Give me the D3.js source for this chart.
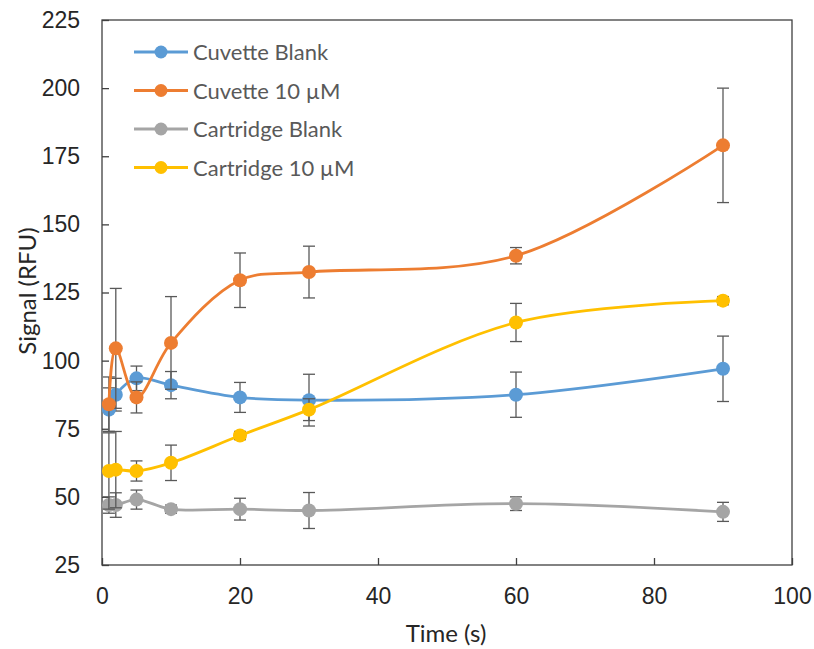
<!DOCTYPE html>
<html>
<head>
<meta charset="utf-8">
<script src="https://cdn.jsdelivr.net/npm/d3@7"></script>
<style>
  html, body { margin: 0; padding: 0; background: #fff; }
  svg { display: block; font-family: Lato, "Open Sans", sans-serif; }
</style>
</head>
<body>
<svg id="chart" width="814" height="649"></svg>
<script>
const times = [1, 2, 5, 10, 20, 30, 60, 90];
const seriesNames = ["Cuvette Blank", "Cuvette 10 \u00b5M", "Cartridge Blank", "Cartridge 10 \u00b5M"];
const cuvetteBlank = [82, 87.5, 93.5, 91, 86.5, 85.5, 87.5, 97];
const cuvetteBlankErr = [8, 6, 4.5, 5, 5.5, 9.5, 8.3, 12];
const cuvette10 = [84, 104.5, 86.5, 106.5, 129.5, 132.5, 138.5, 179];
const cuvette10Err = [10, 22, 5.7, 17, 10, 9.5, 3, 21];
const cartridgeBlank = [47, 47, 49, 45.5, 45.5, 45, 47.5, 44.5];
const cartridgeBlankErr = [3, 4.5, 3.5, 1.5, 4, 6.6, 2.5, 3.5];
const cartridge10 = [59.5, 60, 59.5, 62.5, 72.5, 82, 114, 122];
const cartridge10Err = [14, 14, 3.7, 6.5, 1.5, 4, 7, 1.5];
const colors = ["#5B9BD5", "#ED7D31", "#A5A5A5", "#FFC000"];
const xTicks = [0, 20, 40, 60, 80, 100];
const yTicks = [25, 50, 75, 100, 125, 150, 175, 200, 225];

const seriesValues = [cuvetteBlank, cuvette10, cartridgeBlank, cartridge10];
const seriesErrs = [cuvetteBlankErr, cuvette10Err, cartridgeBlankErr, cartridge10Err];

const svg = d3.select("#chart");
const L = 102, R = 792, T = 20, B = 565;
const x = d3.scaleLinear().domain([0, 100]).range([L, R]);
const y = d3.scaleLinear().domain([25, 225]).range([B, T]);

const axisColor = "#404040";
const textColor = "#262626";

// frame
svg.append("rect").attr("x", L).attr("y", T).attr("width", R - L).attr("height", B - T)
  .attr("fill", "none").attr("stroke", axisColor).attr("stroke-width", 1.3);

// x axis (ticks inside)
const xAxis = svg.append("g").attr("transform", `translate(0,${B})`)
  .call(d3.axisBottom(x).tickValues(xTicks).tickSize(-7).tickPadding(23).tickFormat(d3.format("d")));
xAxis.select(".domain").remove();
xAxis.selectAll("line").attr("stroke", axisColor).attr("stroke-width", 1.3);
xAxis.selectAll("text").attr("fill", textColor).style("font-size", "23px");

const yAxis = svg.append("g").attr("transform", `translate(${L},0)`)
  .call(d3.axisLeft(y).tickValues(yTicks).tickSize(-7).tickPadding(22).tickFormat(d3.format("d")));
yAxis.select(".domain").remove();
yAxis.selectAll("line").attr("stroke", axisColor).attr("stroke-width", 1.3);
yAxis.selectAll("text").attr("fill", textColor).style("font-size", "23px");

// axis titles
svg.append("text").attr("x", 446).attr("y", 642).attr("text-anchor", "middle")
  .attr("fill", textColor).style("font-size", "24px").text("Time (s)");
svg.append("text").attr("transform", `translate(36,291) rotate(-90)`)
  .attr("text-anchor", "middle").attr("fill", textColor).style("font-size", "24px").text("Signal (RFU)");

const line = d3.line().x(d => x(d.t)).y(d => y(d.v)).curve(d3.curveCatmullRom.alpha(0.5));

seriesValues.forEach((vals, si) => {
  const data = times.map((t, i) => ({ t, v: vals[i], e: seriesErrs[si][i] }));
  const g = svg.append("g");
  // error bars
  const eb = g.selectAll("g.eb").data(data).enter().append("g");
  eb.append("line").attr("x1", d => x(d.t)).attr("x2", d => x(d.t))
    .attr("y1", d => y(d.v - d.e)).attr("y2", d => y(d.v + d.e));
  eb.append("line").attr("x1", d => x(d.t) - 6).attr("x2", d => x(d.t) + 6)
    .attr("y1", d => y(d.v + d.e)).attr("y2", d => y(d.v + d.e));
  eb.append("line").attr("x1", d => x(d.t) - 6).attr("x2", d => x(d.t) + 6)
    .attr("y1", d => y(d.v - d.e)).attr("y2", d => y(d.v - d.e));
  eb.selectAll("line").attr("stroke", "#595959").attr("stroke-width", 1.3);
  g.append("path").datum(data).attr("d", line).attr("fill", "none")
    .attr("stroke", colors[si]).attr("stroke-width", 2.8);
  g.selectAll("circle").data(data).enter().append("circle")
    .attr("cx", d => x(d.t)).attr("cy", d => y(d.v)).attr("r", 7).attr("fill", colors[si]);
});

// legend
const lg = svg.append("g");
seriesNames.forEach((name, i) => {
  const ly = 52 + i * 38.5;
  lg.append("line").attr("x1", 134).attr("x2", 188).attr("y1", ly).attr("y2", ly)
    .attr("stroke", colors[i]).attr("stroke-width", 2.8);
  lg.append("circle").attr("cx", 161).attr("cy", ly).attr("r", 6.5).attr("fill", colors[i]);
  lg.append("text").attr("x", 193).attr("y", ly + 8).attr("fill", "#595959")
    .style("font-size", "22px").text(name);
});
</script>
</body>
</html>
